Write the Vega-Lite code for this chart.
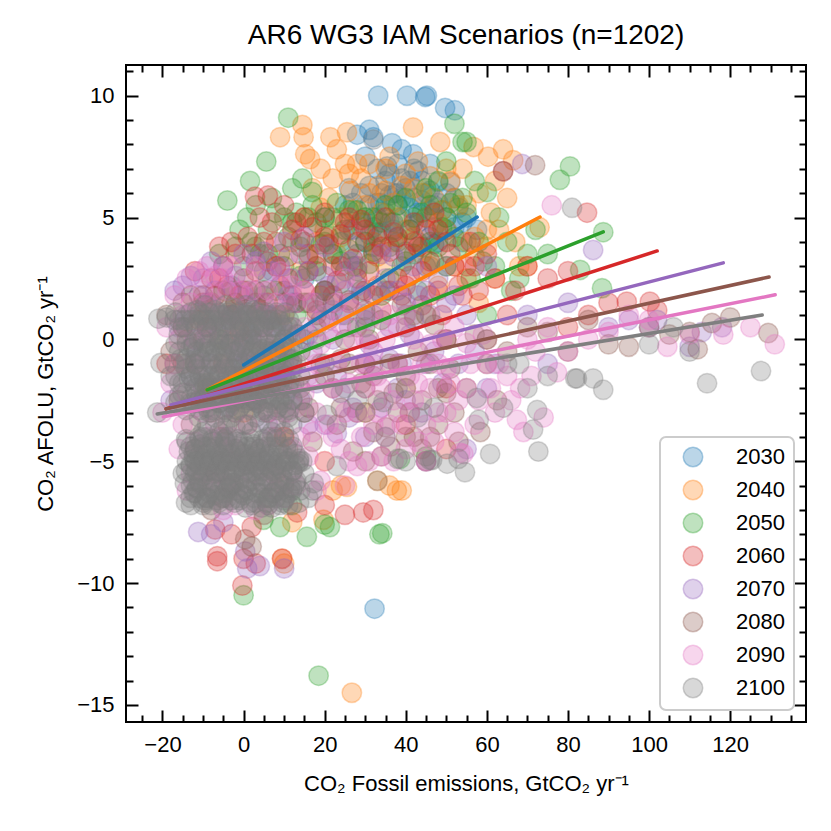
{
"$schema":"https://vega.github.io/schema/vega-lite/v6.json",
"autosize":"none",
"width":680,"height":657,
"padding":{"left":126,"top":65,"right":25,"bottom":109},
"title":{"text":"AR6 WG3 IAM Scenarios (n=1202)","fontSize":28,"font":"Liberation Sans","fontWeight":"normal","color":"black","offset":14},
"config":{"view":{"stroke":"black","strokeWidth":2},
"axis":{"labelFont":"Liberation Sans","titleFont":"Liberation Sans","labelFontSize":22,"titleFontSize":22,"titleFontWeight":"normal","labelColor":"black","titleColor":"black","tickColor":"black","tickWidth":2,"domain":false,"grid":false,"zindex":1,"labelFlush":false,"labelOverlap":false}},
"datasets":{
"fits":[
{"year":"2030","x1":0,"y1":-1.05,"x2":57.6,"y2":5.02},
{"year":"2040","x1":-9,"y1":-2.07,"x2":73.1,"y2":5.02},
{"year":"2050","x1":-9,"y1":-2.07,"x2":88.7,"y2":4.41},
{"year":"2060","x1":-19.1,"y1":-2.85,"x2":102,"y2":3.63},
{"year":"2070","x1":-17.9,"y1":-2.69,"x2":118.3,"y2":3.14},
{"year":"2080","x1":-19.1,"y1":-2.85,"x2":129.6,"y2":2.56},
{"year":"2090","x1":-19.8,"y1":-3.18,"x2":131.1,"y2":1.83},
{"year":"2100","x1":-21.3,"y1":-3.06,"x2":127.9,"y2":1.0}
],
"pts":[
{"year":"2030","x":0,"y":-1},{"year":"2030","x":2,"y":0.2},{"year":"2030","x":4,"y":-1.5},{"year":"2030","x":6,"y":1},{"year":"2030","x":8,"y":0.5},{"year":"2030","x":10,"y":2},{"year":"2030","x":12,"y":1.5},{"year":"2030","x":15,"y":2.5},{"year":"2030","x":18,"y":3},{"year":"2030","x":20,"y":2},{"year":"2030","x":22,"y":3.5},{"year":"2030","x":24,"y":4},{"year":"2030","x":25,"y":2.8},{"year":"2030","x":27,"y":4.5},{"year":"2030","x":28,"y":3.5},{"year":"2030","x":30,"y":5},{"year":"2030","x":30,"y":4},{"year":"2030","x":31,"y":5.5},{"year":"2030","x":32,"y":4.6},{"year":"2030","x":33,"y":5.6},{"year":"2030","x":34,"y":6},{"year":"2030","x":35,"y":5.2},{"year":"2030","x":36,"y":4.8},{"year":"2030","x":37,"y":6},{"year":"2030","x":38,"y":5.5},{"year":"2030","x":39,"y":5},{"year":"2030","x":40,"y":6.2},{"year":"2030","x":41,"y":4.5},{"year":"2030","x":42,"y":5.8},{"year":"2030","x":43,"y":5.2},{"year":"2030","x":44,"y":6.5},{"year":"2030","x":45,"y":5},{"year":"2030","x":46,"y":4.2},{"year":"2030","x":47,"y":5.5},{"year":"2030","x":48,"y":6.45},{"year":"2030","x":50,"y":5},{"year":"2030","x":52,"y":4.6},{"year":"2030","x":54,"y":4},{"year":"2030","x":57.6,"y":4.5},{"year":"2030","x":28,"y":8.4},{"year":"2030","x":32,"y":8.3},{"year":"2030","x":36.6,"y":8.05},{"year":"2030","x":35.4,"y":7.1},{"year":"2030","x":41.8,"y":7.6},{"year":"2030","x":33.2,"y":10},{"year":"2030","x":40.3,"y":10},{"year":"2030","x":44.8,"y":9.95},{"year":"2030","x":45.2,"y":10},{"year":"2030","x":49.7,"y":9.5},{"year":"2030","x":52.1,"y":9.4},{"year":"2030","x":51,"y":6.45},{"year":"2030","x":37.8,"y":6},{"year":"2030","x":33.7,"y":5.6},{"year":"2030","x":26,"y":6.2},{"year":"2030","x":38,"y":7.2},{"year":"2030","x":42,"y":7},{"year":"2030","x":30,"y":7.5},{"year":"2030","x":46,"y":7.2},{"year":"2030","x":32.3,"y":-11.05},{"year":"2030","x":20,"y":5},{"year":"2030","x":25,"y":5.5},{"year":"2030","x":15,"y":0},{"year":"2030","x":35,"y":2},{"year":"2030","x":45,"y":3},
{"year":"2030","x":29,"y":4.8},{"year":"2030","x":31,"y":6.3},{"year":"2030","x":34,"y":4.4},{"year":"2030","x":36,"y":5.9},{"year":"2030","x":38,"y":4.2},{"year":"2030","x":39,"y":6.6},{"year":"2030","x":41,"y":5.4},{"year":"2030","x":43,"y":4.8},{"year":"2030","x":44,"y":5.7},{"year":"2030","x":46,"y":6.1},{"year":"2030","x":47,"y":4.6},{"year":"2030","x":49,"y":5.3},{"year":"2030","x":50,"y":6},{"year":"2030","x":53,"y":5.4},{"year":"2030","x":55,"y":5},{"year":"2030","x":32,"y":3.8},{"year":"2030","x":40,"y":3.6},{"year":"2030","x":47,"y":3.9},{"year":"2030","x":27,"y":5.6},{"year":"2030","x":36,"y":6.8},{"year":"2030","x":43,"y":6.9},{"year":"2030","x":48,"y":4},{"year":"2030","x":33,"y":7},{"year":"2030","x":39,"y":7.8},{"year":"2030","x":31,"y":8.6},
{"year":"2030","x":26,"y":4.5},{"year":"2030","x":29,"y":6},{"year":"2030","x":31,"y":4.3},{"year":"2030","x":33,"y":5},{"year":"2030","x":35,"y":6.5},{"year":"2030","x":37,"y":4.5},{"year":"2030","x":39,"y":5.8},{"year":"2030","x":41,"y":6.5},{"year":"2030","x":43,"y":4},{"year":"2030","x":45,"y":6},{"year":"2030","x":46,"y":5.3},{"year":"2030","x":48,"y":5.6},{"year":"2030","x":50,"y":4.5},{"year":"2030","x":52,"y":5.8},{"year":"2030","x":54,"y":4.8},
{"year":"2040","x":-9,"y":-2},{"year":"2040","x":-5,"y":0},{"year":"2040","x":-2,"y":1.5},{"year":"2040","x":0,"y":-3},{"year":"2040","x":3,"y":2},{"year":"2040","x":5,"y":-1},{"year":"2040","x":8,"y":3},{"year":"2040","x":9,"y":8.3},{"year":"2040","x":10,"y":1},{"year":"2040","x":12,"y":4},{"year":"2040","x":14.5,"y":8.8},{"year":"2040","x":14.8,"y":8.3},{"year":"2040","x":15.2,"y":7.6},{"year":"2040","x":16.4,"y":7.4},{"year":"2040","x":15,"y":5},{"year":"2040","x":18,"y":3},{"year":"2040","x":20,"y":4.5},{"year":"2040","x":20,"y":2},{"year":"2040","x":21.4,"y":8.3},{"year":"2040","x":23,"y":7.8},{"year":"2040","x":25.5,"y":8.5},{"year":"2040","x":24,"y":5},{"year":"2040","x":26.3,"y":6.1},{"year":"2040","x":28,"y":7.2},{"year":"2040","x":28,"y":3},{"year":"2040","x":30,"y":5.5},{"year":"2040","x":32,"y":4},{"year":"2040","x":33.2,"y":6.3},{"year":"2040","x":35,"y":6.1},{"year":"2040","x":35,"y":3},{"year":"2040","x":38,"y":5},{"year":"2040","x":40,"y":4.5},{"year":"2040","x":41.8,"y":8.7},{"year":"2040","x":42,"y":6.2},{"year":"2040","x":44,"y":3.5},{"year":"2040","x":45,"y":5},{"year":"2040","x":47,"y":5.8},{"year":"2040","x":48.5,"y":8.1},{"year":"2040","x":50,"y":4.5},{"year":"2040","x":52,"y":3},{"year":"2040","x":55,"y":4},{"year":"2040","x":56.7,"y":7.9},{"year":"2040","x":57,"y":4.2},{"year":"2040","x":60.3,"y":7.5},{"year":"2040","x":60,"y":3.8},{"year":"2040","x":64,"y":7.8},{"year":"2040","x":66.5,"y":7.35},{"year":"2040","x":62,"y":2.5},{"year":"2040","x":68,"y":3},{"year":"2040","x":70,"y":3},{"year":"2040","x":73,"y":4.6},{"year":"2040","x":45,"y":1},{"year":"2040","x":55,"y":2.5},{"year":"2040","x":10,"y":-4},{"year":"2040","x":20,"y":-5},{"year":"2040","x":22,"y":-6.2},{"year":"2040","x":25.5,"y":-6.05},{"year":"2040","x":37.8,"y":-6.2},{"year":"2040","x":39,"y":-6.2},{"year":"2040","x":36,"y":-6},{"year":"2040","x":19.7,"y":-7.4},{"year":"2040","x":12,"y":-7.5},{"year":"2040","x":9.5,"y":-9.0},{"year":"2040","x":10,"y":-9.2},{"year":"2040","x":26.7,"y":-14.5},{"year":"2040","x":30,"y":-3},{"year":"2040","x":40,"y":-2},{"year":"2040","x":50,"y":0},{"year":"2040","x":33,"y":-5.8},{"year":"2040","x":24,"y":-6},
{"year":"2040","x":17,"y":6.2},{"year":"2040","x":19,"y":5.4},{"year":"2040","x":22,"y":6.6},{"year":"2040","x":25,"y":7.2},{"year":"2040","x":27,"y":5.3},{"year":"2040","x":29,"y":6.6},{"year":"2040","x":31,"y":7.2},{"year":"2040","x":34,"y":5.2},{"year":"2040","x":36,"y":7.5},{"year":"2040","x":37,"y":4},{"year":"2040","x":39,"y":6.3},{"year":"2040","x":43,"y":7.3},{"year":"2040","x":46,"y":6.7},{"year":"2040","x":49,"y":5.3},{"year":"2040","x":51,"y":6.5},{"year":"2040","x":53,"y":5.5},{"year":"2040","x":54,"y":7},{"year":"2040","x":58,"y":6},{"year":"2040","x":61,"y":5.2},{"year":"2040","x":63,"y":4.5},{"year":"2040","x":65,"y":5.8},{"year":"2040","x":67,"y":4},{"year":"2040","x":23,"y":3.5},{"year":"2040","x":33,"y":2.2},{"year":"2040","x":48,"y":2.2},{"year":"2040","x":14,"y":2.8},{"year":"2040","x":58,"y":1.5},{"year":"2040","x":19,"y":7},
{"year":"2040","x":18,"y":4},{"year":"2040","x":21,"y":5.8},{"year":"2040","x":24,"y":4.2},{"year":"2040","x":26,"y":6.8},{"year":"2040","x":29,"y":4.6},{"year":"2040","x":31,"y":6},{"year":"2040","x":33,"y":3.4},{"year":"2040","x":35,"y":7},{"year":"2040","x":37,"y":5.6},{"year":"2040","x":40,"y":6.8},{"year":"2040","x":42,"y":4.2},{"year":"2040","x":44,"y":6},{"year":"2040","x":46,"y":3},{"year":"2040","x":48,"y":4.8},{"year":"2040","x":50,"y":7},{"year":"2040","x":52,"y":5.8},{"year":"2040","x":55,"y":5.5},{"year":"2040","x":57,"y":3.4},{"year":"2040","x":60,"y":4.5},{"year":"2040","x":62,"y":6.5},
{"year":"2050","x":-9,"y":-2},{"year":"2050","x":-6,"y":0},{"year":"2050","x":-4,"y":5.7},{"year":"2050","x":-3,"y":2},{"year":"2050","x":0,"y":3},{"year":"2050","x":0.9,"y":5.0},{"year":"2050","x":1.6,"y":6.5},{"year":"2050","x":2,"y":4},{"year":"2050","x":4,"y":3.5},{"year":"2050","x":5.6,"y":7.3},{"year":"2050","x":6,"y":4.5},{"year":"2050","x":8,"y":2},{"year":"2050","x":11,"y":9.1},{"year":"2050","x":10,"y":5},{"year":"2050","x":12,"y":6.2},{"year":"2050","x":14.5,"y":6.6},{"year":"2050","x":16.9,"y":6.05},{"year":"2050","x":15,"y":4},{"year":"2050","x":18,"y":4.8},{"year":"2050","x":20,"y":5},{"year":"2050","x":20,"y":2},{"year":"2050","x":22,"y":3.5},{"year":"2050","x":25,"y":4.5},{"year":"2050","x":27,"y":3},{"year":"2050","x":30,"y":4},{"year":"2050","x":32,"y":5},{"year":"2050","x":35,"y":5.5},{"year":"2050","x":36,"y":2.5},{"year":"2050","x":38,"y":4},{"year":"2050","x":40,"y":5.8},{"year":"2050","x":42,"y":3.5},{"year":"2050","x":45,"y":6.2},{"year":"2050","x":46,"y":4},{"year":"2050","x":48,"y":6.5},{"year":"2050","x":50,"y":7.3},{"year":"2050","x":50,"y":3},{"year":"2050","x":52,"y":8.85},{"year":"2050","x":54,"y":8.1},{"year":"2050","x":55,"y":8.1},{"year":"2050","x":55,"y":5.2},{"year":"2050","x":58,"y":4},{"year":"2050","x":60,"y":6.05},{"year":"2050","x":62,"y":3},{"year":"2050","x":65,"y":4},{"year":"2050","x":68,"y":2.5},{"year":"2050","x":70,"y":3.5},{"year":"2050","x":75,"y":3.5},{"year":"2050","x":78,"y":6.55},{"year":"2050","x":80.5,"y":7.1},{"year":"2050","x":83,"y":2.85},{"year":"2050","x":88.4,"y":2.1},{"year":"2050","x":88.7,"y":4.4},{"year":"2050","x":60,"y":1},{"year":"2050","x":40,"y":1},{"year":"2050","x":25,"y":1},{"year":"2050","x":10,"y":0},{"year":"2050","x":-2,"y":-3},{"year":"2050","x":4.9,"y":-7.4},{"year":"2050","x":9,"y":-7.7},{"year":"2050","x":15.6,"y":-8.1},{"year":"2050","x":21.3,"y":-7.7},{"year":"2050","x":20,"y":-7.6},{"year":"2050","x":34.2,"y":-7.95},{"year":"2050","x":33.5,"y":-8.0},{"year":"2050","x":0,"y":-10.5},{"year":"2050","x":18.5,"y":-13.8},{"year":"2050","x":38.6,"y":-4.9},{"year":"2050","x":45,"y":-4.8},{"year":"2050","x":12,"y":-6.8},{"year":"2050","x":6,"y":-6.5},
{"year":"2050","x":-1,"y":4.5},{"year":"2050","x":3,"y":5.5},{"year":"2050","x":5,"y":2.8},{"year":"2050","x":7,"y":5.8},{"year":"2050","x":9,"y":3.5},{"year":"2050","x":11,"y":4.2},{"year":"2050","x":13,"y":5.2},{"year":"2050","x":14,"y":2.6},{"year":"2050","x":16,"y":3.3},{"year":"2050","x":17,"y":5.5},{"year":"2050","x":19,"y":3.9},{"year":"2050","x":21,"y":4.2},{"year":"2050","x":23,"y":5.6},{"year":"2050","x":24,"y":2.3},{"year":"2050","x":26,"y":3.7},{"year":"2050","x":28,"y":5.3},{"year":"2050","x":29,"y":2},{"year":"2050","x":31,"y":3.1},{"year":"2050","x":33,"y":4.4},{"year":"2050","x":34,"y":1.8},{"year":"2050","x":37,"y":4.8},{"year":"2050","x":39,"y":3},{"year":"2050","x":41,"y":4.5},{"year":"2050","x":43,"y":2},{"year":"2050","x":44,"y":5.2},{"year":"2050","x":47,"y":3.2},{"year":"2050","x":49,"y":4.6},{"year":"2050","x":51,"y":5.6},{"year":"2050","x":53,"y":3.8},{"year":"2050","x":56,"y":2.5},{"year":"2050","x":57,"y":6.5},{"year":"2050","x":59,"y":3.2},{"year":"2050","x":63,"y":5},{"year":"2050","x":66,"y":2},{"year":"2050","x":72,"y":4.5},{"year":"2050","x":3,"y":1},{"year":"2050","x":13,"y":1},{"year":"2050","x":18,"y":0},{"year":"2050","x":30,"y":0.5},{"year":"2050","x":-6,"y":3.5},
{"year":"2050","x":1,"y":2},{"year":"2050","x":3,"y":3.8},{"year":"2050","x":6,"y":3.5},{"year":"2050","x":8,"y":5.2},{"year":"2050","x":10,"y":3},{"year":"2050","x":12,"y":4.8},{"year":"2050","x":14,"y":3.8},{"year":"2050","x":16,"y":5},{"year":"2050","x":18,"y":2.8},{"year":"2050","x":20,"y":4},{"year":"2050","x":22,"y":5},{"year":"2050","x":24,"y":3.2},{"year":"2050","x":26,"y":5.3},{"year":"2050","x":28,"y":2.8},{"year":"2050","x":30,"y":5},{"year":"2050","x":32,"y":3.6},{"year":"2050","x":34,"y":4.8},{"year":"2050","x":36,"y":3.8},{"year":"2050","x":38,"y":5.5},{"year":"2050","x":40,"y":3.2},{"year":"2050","x":42,"y":5},{"year":"2050","x":44,"y":3.8},{"year":"2050","x":46,"y":5.5},{"year":"2050","x":48,"y":3.8},{"year":"2050","x":50,"y":5},{"year":"2050","x":52,"y":4.2},{"year":"2050","x":54,"y":5.8},{"year":"2050","x":-2,"y":3.8},{"year":"2050","x":5,"y":1.8},{"year":"2050","x":15,"y":1.5},
{"year":"2060","x":-19,"y":-1},{"year":"2060","x":-15,"y":0.5},{"year":"2060","x":-12,"y":2.8},{"year":"2060","x":-10,"y":1.5},{"year":"2060","x":-8,"y":2.5},{"year":"2060","x":-5,"y":3},{"year":"2060","x":-3,"y":1},{"year":"2060","x":0,"y":2},{"year":"2060","x":2.8,"y":5.85},{"year":"2060","x":6,"y":5.9},{"year":"2060","x":5,"y":4},{"year":"2060","x":8,"y":3},{"year":"2060","x":10,"y":5.5},{"year":"2060","x":12,"y":4.5},{"year":"2060","x":15,"y":5},{"year":"2060","x":15,"y":2},{"year":"2060","x":18,"y":3.5},{"year":"2060","x":20,"y":5.2},{"year":"2060","x":22,"y":3},{"year":"2060","x":25,"y":4.8},{"year":"2060","x":28,"y":4},{"year":"2060","x":30,"y":2},{"year":"2060","x":32,"y":3.5},{"year":"2060","x":35,"y":5},{"year":"2060","x":38,"y":2.5},{"year":"2060","x":40,"y":3.5},{"year":"2060","x":42,"y":4.8},{"year":"2060","x":45,"y":4.5},{"year":"2060","x":48,"y":2},{"year":"2060","x":50,"y":4},{"year":"2060","x":52,"y":3},{"year":"2060","x":55,"y":3},{"year":"2060","x":58,"y":2},{"year":"2060","x":60,"y":3.5},{"year":"2060","x":64,"y":6.9},{"year":"2060","x":65,"y":1},{"year":"2060","x":70,"y":3},{"year":"2060","x":75,"y":2.5},{"year":"2060","x":80,"y":2.8},{"year":"2060","x":84.7,"y":5.2},{"year":"2060","x":85,"y":1},{"year":"2060","x":90,"y":1.5},{"year":"2060","x":94.5,"y":1.55},{"year":"2060","x":100.2,"y":1.55},{"year":"2060","x":102,"y":1.2},{"year":"2060","x":50,"y":-2},{"year":"2060","x":40,"y":-3.5},{"year":"2060","x":10,"y":-4},{"year":"2060","x":5,"y":-1},{"year":"2060","x":-5,"y":-2},{"year":"2060","x":-7,"y":-7.8},{"year":"2060","x":-6.5,"y":-8.9},{"year":"2060","x":-6.5,"y":-9.1},{"year":"2060","x":-3,"y":-8},{"year":"2060","x":0,"y":-9},{"year":"2060","x":-0.3,"y":-10.1},{"year":"2060","x":3,"y":-9.2},{"year":"2060","x":9.5,"y":-9.0},{"year":"2060","x":13.2,"y":-7.1},{"year":"2060","x":20,"y":-6.8},{"year":"2060","x":29.5,"y":-7.1},{"year":"2060","x":32,"y":-7.0},{"year":"2060","x":25,"y":-7.2},{"year":"2060","x":50,"y":-4.5},{"year":"2060","x":2,"y":-7.7},{"year":"2060","x":30,"y":-1},{"year":"2060","x":60,"y":0},{"year":"2060","x":80,"y":0.5},
{"year":"2060","x":-11,"y":0.8},{"year":"2060","x":-7,"y":1.8},{"year":"2060","x":-6,"y":3.8},{"year":"2060","x":-4,"y":2.2},{"year":"2060","x":-2,"y":3.5},{"year":"2060","x":-1,"y":0.3},{"year":"2060","x":1,"y":4.2},{"year":"2060","x":3,"y":2.8},{"year":"2060","x":4,"y":1.2},{"year":"2060","x":6,"y":3.2},{"year":"2060","x":7,"y":4.8},{"year":"2060","x":9,"y":2.2},{"year":"2060","x":11,"y":3.4},{"year":"2060","x":13,"y":1.5},{"year":"2060","x":14,"y":4.1},{"year":"2060","x":16,"y":2.8},{"year":"2060","x":17,"y":4.6},{"year":"2060","x":19,"y":1.8},{"year":"2060","x":21,"y":3.9},{"year":"2060","x":23,"y":2.4},{"year":"2060","x":24,"y":4.3},{"year":"2060","x":26,"y":1.5},{"year":"2060","x":27,"y":3.3},{"year":"2060","x":29,"y":4.9},{"year":"2060","x":31,"y":2.8},{"year":"2060","x":33,"y":4.2},{"year":"2060","x":34,"y":1.2},{"year":"2060","x":36,"y":3.6},{"year":"2060","x":37,"y":4.4},{"year":"2060","x":39,"y":1.8},{"year":"2060","x":41,"y":2.6},{"year":"2060","x":43,"y":3.8},{"year":"2060","x":44,"y":1.4},{"year":"2060","x":46,"y":3.2},{"year":"2060","x":47,"y":5.2},{"year":"2060","x":49,"y":1},{"year":"2060","x":53,"y":2.2},{"year":"2060","x":56,"y":4},{"year":"2060","x":62,"y":2.5},{"year":"2060","x":67,"y":2},
{"year":"2060","x":-9,"y":0.5},{"year":"2060","x":-6,"y":2.5},{"year":"2060","x":-3,"y":4},{"year":"2060","x":-1,"y":1.8},{"year":"2060","x":2,"y":3.5},{"year":"2060","x":4,"y":5},{"year":"2060","x":6,"y":1.5},{"year":"2060","x":8,"y":4},{"year":"2060","x":11,"y":2.5},{"year":"2060","x":13,"y":4.8},{"year":"2060","x":16,"y":3.5},{"year":"2060","x":18,"y":1.2},{"year":"2060","x":20,"y":4.2},{"year":"2060","x":22,"y":1.8},{"year":"2060","x":24,"y":3},{"year":"2060","x":26,"y":5},{"year":"2060","x":28,"y":2.5},{"year":"2060","x":30,"y":4.5},{"year":"2060","x":32,"y":1.8},{"year":"2060","x":34,"y":3.8},{"year":"2060","x":36,"y":2},{"year":"2060","x":38,"y":4.2},{"year":"2060","x":40,"y":2.2},{"year":"2060","x":42,"y":4},{"year":"2060","x":44,"y":2.8},{"year":"2060","x":46,"y":1.8},{"year":"2060","x":48,"y":4.5},{"year":"2060","x":51,"y":3.5},{"year":"2060","x":54,"y":1.8},{"year":"2060","x":57,"y":3},
{"year":"2070","x":-18,"y":-2.5},{"year":"2070","x":-17,"y":2},{"year":"2070","x":-15,"y":2.2},{"year":"2070","x":-12,"y":0},{"year":"2070","x":-10,"y":2.5},{"year":"2070","x":-8,"y":-1},{"year":"2070","x":-5,"y":3},{"year":"2070","x":-3,"y":1},{"year":"2070","x":0,"y":3.5},{"year":"2070","x":0,"y":0},{"year":"2070","x":3,"y":2},{"year":"2070","x":5,"y":3.6},{"year":"2070","x":8,"y":1},{"year":"2070","x":10,"y":4},{"year":"2070","x":10,"y":-1},{"year":"2070","x":12,"y":2.5},{"year":"2070","x":15,"y":4.2},{"year":"2070","x":18,"y":1.5},{"year":"2070","x":20,"y":3.8},{"year":"2070","x":22,"y":0},{"year":"2070","x":25,"y":2},{"year":"2070","x":28,"y":3},{"year":"2070","x":30,"y":-1},{"year":"2070","x":32,"y":1},{"year":"2070","x":35,"y":2.5},{"year":"2070","x":38,"y":-2},{"year":"2070","x":40,"y":1.5},{"year":"2070","x":42,"y":3},{"year":"2070","x":45,"y":-1},{"year":"2070","x":48,"y":2.5},{"year":"2070","x":50,"y":0},{"year":"2070","x":55,"y":1},{"year":"2070","x":60,"y":3},{"year":"2070","x":62,"y":-1},{"year":"2070","x":68.7,"y":7.2},{"year":"2070","x":70,"y":1},{"year":"2070","x":75,"y":-1},{"year":"2070","x":80,"y":1.5},{"year":"2070","x":86.2,"y":3.67},{"year":"2070","x":90,"y":0.5},{"year":"2070","x":95,"y":0.8},{"year":"2070","x":100,"y":0.5},{"year":"2070","x":102,"y":0.8},{"year":"2070","x":110,"y":-0.3},{"year":"2070","x":113,"y":0.3},{"year":"2070","x":118,"y":0.5},{"year":"2070","x":-11.2,"y":-7.9},{"year":"2070","x":-8,"y":-8},{"year":"2070","x":-5,"y":-7.5},{"year":"2070","x":0.4,"y":-8.7},{"year":"2070","x":0.9,"y":-9.4},{"year":"2070","x":4,"y":-9.3},{"year":"2070","x":10,"y":-9.4},{"year":"2070","x":23,"y":-3.85},{"year":"2070","x":20,"y":-3.5},{"year":"2070","x":45,"y":-5},{"year":"2070","x":55,"y":-4.5},{"year":"2070","x":60,"y":-2},{"year":"2070","x":30,"y":-4},{"year":"2070","x":5,"y":-5},{"year":"2070","x":-5,"y":-4},
{"year":"2070","x":-14,"y":1},{"year":"2070","x":-13,"y":-1.5},{"year":"2070","x":-11,"y":1.8},{"year":"2070","x":-9,"y":0.5},{"year":"2070","x":-7,"y":2},{"year":"2070","x":-6,"y":-2},{"year":"2070","x":-4,"y":0.8},{"year":"2070","x":-2,"y":2.6},{"year":"2070","x":-1,"y":-1.5},{"year":"2070","x":1,"y":1.4},{"year":"2070","x":2,"y":-2.5},{"year":"2070","x":4,"y":0.5},{"year":"2070","x":6,"y":2.5},{"year":"2070","x":7,"y":-1.2},{"year":"2070","x":9,"y":3},{"year":"2070","x":11,"y":0.2},{"year":"2070","x":13,"y":1.5},{"year":"2070","x":14,"y":-2.5},{"year":"2070","x":16,"y":2.8},{"year":"2070","x":17,"y":-0.5},{"year":"2070","x":19,"y":0.8},{"year":"2070","x":21,"y":2.2},{"year":"2070","x":23,"y":-1.5},{"year":"2070","x":24,"y":1},{"year":"2070","x":26,"y":3.2},{"year":"2070","x":27,"y":-2.8},{"year":"2070","x":29,"y":1.8},{"year":"2070","x":31,"y":-0.2},{"year":"2070","x":33,"y":2},{"year":"2070","x":34,"y":-2.8},{"year":"2070","x":36,"y":0.5},{"year":"2070","x":37,"y":3.4},{"year":"2070","x":39,"y":-1},{"year":"2070","x":41,"y":0.2},{"year":"2070","x":43,"y":1.8},{"year":"2070","x":44,"y":-3},{"year":"2070","x":46,"y":1},{"year":"2070","x":49,"y":-1.8},{"year":"2070","x":52,"y":1.8},{"year":"2070","x":57,"y":-0.5},
{"year":"2070","x":-16,"y":0.5},{"year":"2070","x":-13,"y":2.6},{"year":"2070","x":-12,"y":-0.8},{"year":"2070","x":-9,"y":1.5},{"year":"2070","x":-8,"y":3.2},{"year":"2070","x":-6,"y":0.2},{"year":"2070","x":-3,"y":2.2},{"year":"2070","x":-2,"y":-0.5},{"year":"2070","x":0,"y":1.8},{"year":"2070","x":1,"y":-0.8},{"year":"2070","x":3,"y":3.2},{"year":"2070","x":5,"y":1.5},{"year":"2070","x":7,"y":2.8},{"year":"2070","x":8,"y":-0.5},{"year":"2070","x":11,"y":1.8},{"year":"2070","x":12,"y":-2},{"year":"2070","x":14,"y":3.5},{"year":"2070","x":16,"y":0.2},{"year":"2070","x":18,"y":-1.8},{"year":"2070","x":20,"y":2.6},{"year":"2070","x":22,"y":1.2},{"year":"2070","x":24,"y":-2.2},{"year":"2070","x":26,"y":0.5},{"year":"2070","x":28,"y":2.2},{"year":"2070","x":30,"y":0.8},{"year":"2070","x":32,"y":-1},{"year":"2070","x":34,"y":3.5},{"year":"2070","x":36,"y":-0.8},{"year":"2070","x":38,"y":2},{"year":"2070","x":40,"y":-2.5},{"year":"2070","x":42,"y":0.8},{"year":"2070","x":45,"y":2},{"year":"2070","x":47,"y":-0.5},{"year":"2070","x":50,"y":1.5},{"year":"2070","x":53,"y":-1},{"year":"2070","x":-10,"y":-2},{"year":"2070","x":-4,"y":-2.8},{"year":"2070","x":6,"y":-3.5},{"year":"2070","x":16,"y":-3.5},{"year":"2070","x":26,"y":-3.2},
{"year":"2080","x":-19,"y":1},{"year":"2080","x":-16,"y":-2.5},{"year":"2080","x":-15,"y":1.5},{"year":"2080","x":-12,"y":-1},{"year":"2080","x":-10,"y":1.8},{"year":"2080","x":-8,"y":-3},{"year":"2080","x":-5,"y":2},{"year":"2080","x":-5,"y":-1},{"year":"2080","x":-3,"y":-5},{"year":"2080","x":0,"y":2.5},{"year":"2080","x":2,"y":0},{"year":"2080","x":5,"y":2},{"year":"2080","x":5,"y":-2},{"year":"2080","x":8,"y":-4},{"year":"2080","x":10,"y":1.5},{"year":"2080","x":12,"y":-1},{"year":"2080","x":15,"y":-3},{"year":"2080","x":18,"y":0.5},{"year":"2080","x":20,"y":2},{"year":"2080","x":22,"y":-2},{"year":"2080","x":25,"y":0},{"year":"2080","x":28,"y":-3},{"year":"2080","x":30,"y":1.2},{"year":"2080","x":32,"y":-1.5},{"year":"2080","x":35,"y":-3.6},{"year":"2080","x":36.2,"y":-4.4},{"year":"2080","x":38,"y":-1},{"year":"2080","x":40,"y":0.5},{"year":"2080","x":42,"y":-4},{"year":"2080","x":45,"y":-5},{"year":"2080","x":48,"y":-2},{"year":"2080","x":50,"y":0},{"year":"2080","x":52,"y":-3},{"year":"2080","x":55,"y":-2},{"year":"2080","x":58.4,"y":-3.8},{"year":"2080","x":60,"y":-1},{"year":"2080","x":62.5,"y":-2.5},{"year":"2080","x":64,"y":6.9},{"year":"2080","x":71.9,"y":7.15},{"year":"2080","x":65,"y":-0.5},{"year":"2080","x":70,"y":0.5},{"year":"2080","x":75,"y":0.3},{"year":"2080","x":80,"y":-0.5},{"year":"2080","x":85,"y":0.8},{"year":"2080","x":90,"y":-0.2},{"year":"2080","x":95,"y":-0.3},{"year":"2080","x":100,"y":0.5},{"year":"2080","x":105,"y":0.2},{"year":"2080","x":110,"y":0.3},{"year":"2080","x":112,"y":-0.4},{"year":"2080","x":115.5,"y":0.67},{"year":"2080","x":120,"y":0.9},{"year":"2080","x":129.4,"y":0.26},{"year":"2080","x":0.4,"y":-8.2},{"year":"2080","x":2,"y":-8.5},{"year":"2080","x":-5,"y":-6.5},{"year":"2080","x":10,"y":-6},{"year":"2080","x":30,"y":-5},{"year":"2080","x":40,"y":-4},{"year":"2080","x":-10,"y":-5.5},
{"year":"2080","x":-14,"y":0},{"year":"2080","x":-13,"y":-3.5},{"year":"2080","x":-11,"y":1},{"year":"2080","x":-9,"y":-1.8},{"year":"2080","x":-7,"y":0.8},{"year":"2080","x":-6,"y":-4},{"year":"2080","x":-4,"y":1.2},{"year":"2080","x":-2,"y":-2.5},{"year":"2080","x":-1,"y":0.5},{"year":"2080","x":1,"y":-3.5},{"year":"2080","x":3,"y":1.5},{"year":"2080","x":4,"y":-1},{"year":"2080","x":6,"y":-3},{"year":"2080","x":7,"y":0.8},{"year":"2080","x":9,"y":-2},{"year":"2080","x":11,"y":-4.5},{"year":"2080","x":13,"y":0.2},{"year":"2080","x":14,"y":-2},{"year":"2080","x":16,"y":1.5},{"year":"2080","x":17,"y":-4.2},{"year":"2080","x":19,"y":-1},{"year":"2080","x":21,"y":0.8},{"year":"2080","x":23,"y":-3.5},{"year":"2080","x":24,"y":-0.8},{"year":"2080","x":26,"y":1.6},{"year":"2080","x":27,"y":-4.6},{"year":"2080","x":29,"y":-1.8},{"year":"2080","x":31,"y":0},{"year":"2080","x":33,"y":-2.5},{"year":"2080","x":34,"y":-4.8},{"year":"2080","x":37,"y":-2.2},{"year":"2080","x":39,"y":1.4},{"year":"2080","x":41,"y":-3},{"year":"2080","x":43,"y":-0.5},{"year":"2080","x":44,"y":-2.5},{"year":"2080","x":46,"y":-4},{"year":"2080","x":47,"y":0.6},{"year":"2080","x":51,"y":-1.2},{"year":"2080","x":53,"y":-4.2},{"year":"2080","x":57,"y":0.2},{"year":"2080","x":-17,"y":-1},{"year":"2080","x":-3,"y":-6},{"year":"2080","x":5,"y":-7.2},{"year":"2080","x":-8,"y":-7},
{"year":"2080","x":-18,"y":-0.5},{"year":"2080","x":-15,"y":-1},{"year":"2080","x":-13,"y":1.8},{"year":"2080","x":-11,"y":-2.5},{"year":"2080","x":-10,"y":0},{"year":"2080","x":-8,"y":1.5},{"year":"2080","x":-6,"y":-1},{"year":"2080","x":-4,"y":-3.5},{"year":"2080","x":-2,"y":1.5},{"year":"2080","x":0,"y":-1.5},{"year":"2080","x":1,"y":1},{"year":"2080","x":3,"y":-2.5},{"year":"2080","x":5,"y":0.5},{"year":"2080","x":7,"y":-1.8},{"year":"2080","x":9,"y":1},{"year":"2080","x":10,"y":-3},{"year":"2080","x":12,"y":1.8},{"year":"2080","x":14,"y":-0.5},{"year":"2080","x":16,"y":-2.8},{"year":"2080","x":18,"y":1},{"year":"2080","x":20,"y":-1.5},{"year":"2080","x":22,"y":1.5},{"year":"2080","x":24,"y":-2.8},{"year":"2080","x":26,"y":-1},{"year":"2080","x":28,"y":0.5},{"year":"2080","x":30,"y":-2},{"year":"2080","x":32,"y":-3.8},{"year":"2080","x":34,"y":0.8},{"year":"2080","x":36,"y":-1},{"year":"2080","x":38,"y":-3},{"year":"2080","x":40,"y":-1.5},{"year":"2080","x":42,"y":1},{"year":"2080","x":44,"y":-4.5},{"year":"2080","x":46,"y":-1},{"year":"2080","x":48,"y":-3.5},{"year":"2080","x":50,"y":-2.2},{"year":"2080","x":-12,"y":-4.5},{"year":"2080","x":-7,"y":-5.5},{"year":"2080","x":2,"y":-5},{"year":"2080","x":8,"y":-5.5},
{"year":"2090","x":-20,"y":-3},{"year":"2090","x":-19,"y":0.5},{"year":"2090","x":-17,"y":-1},{"year":"2090","x":-15,"y":1},{"year":"2090","x":-15,"y":-3.5},{"year":"2090","x":-13,"y":-5.5},{"year":"2090","x":-12,"y":0},{"year":"2090","x":-10,"y":2},{"year":"2090","x":-10,"y":-3},{"year":"2090","x":-10,"y":-6},{"year":"2090","x":-8,"y":1.5},{"year":"2090","x":-8,"y":-5.8},{"year":"2090","x":-7,"y":-2},{"year":"2090","x":-5,"y":2.5},{"year":"2090","x":-5,"y":-4.5},{"year":"2090","x":-5,"y":-7},{"year":"2090","x":-3,"y":0},{"year":"2090","x":-2,"y":-3},{"year":"2090","x":0,"y":1},{"year":"2090","x":0,"y":-5},{"year":"2090","x":0,"y":-2},{"year":"2090","x":2,"y":2},{"year":"2090","x":3,"y":-1},{"year":"2090","x":5,"y":0},{"year":"2090","x":5,"y":-6},{"year":"2090","x":6,"y":-3},{"year":"2090","x":8,"y":1.5},{"year":"2090","x":10,"y":-2},{"year":"2090","x":10,"y":-6.5},{"year":"2090","x":12,"y":-5.5},{"year":"2090","x":12,"y":0.5},{"year":"2090","x":14,"y":-4},{"year":"2090","x":15,"y":2},{"year":"2090","x":16,"y":-1.5},{"year":"2090","x":18,"y":-3},{"year":"2090","x":20,"y":-5},{"year":"2090","x":20,"y":1},{"year":"2090","x":22,"y":-2},{"year":"2090","x":24,"y":-4.5},{"year":"2090","x":25,"y":2.5},{"year":"2090","x":25,"y":-6},{"year":"2090","x":27,"y":0},{"year":"2090","x":28,"y":-5.2},{"year":"2090","x":30,"y":-2},{"year":"2090","x":30,"y":0},{"year":"2090","x":32,"y":-3.5},{"year":"2090","x":33,"y":-3},{"year":"2090","x":35,"y":-4},{"year":"2090","x":36,"y":1},{"year":"2090","x":38,"y":-1},{"year":"2090","x":40,"y":-4.5},{"year":"2090","x":40,"y":1},{"year":"2090","x":42,"y":-2.5},{"year":"2090","x":45,"y":-3.5},{"year":"2090","x":45,"y":-5},{"year":"2090","x":48,"y":-1},{"year":"2090","x":50,"y":-3},{"year":"2090","x":52,"y":0.5},{"year":"2090","x":53.4,"y":-4.65},{"year":"2090","x":54.2,"y":-4.7},{"year":"2090","x":55,"y":-0.15},{"year":"2090","x":55,"y":-2},{"year":"2090","x":58,"y":-2.5},{"year":"2090","x":60,"y":-1},{"year":"2090","x":62,"y":-3},{"year":"2090","x":65,"y":-1.5},{"year":"2090","x":67.4,"y":-3.3},{"year":"2090","x":68.2,"y":-2.0},{"year":"2090","x":69,"y":-3.8},{"year":"2090","x":70,"y":0},{"year":"2090","x":74,"y":-3.2},{"year":"2090","x":75,"y":0.5},{"year":"2090","x":76,"y":5.5},{"year":"2090","x":77.3,"y":-1.35},{"year":"2090","x":80,"y":-0.5},{"year":"2090","x":85,"y":0},{"year":"2090","x":90,"y":0.3},{"year":"2090","x":95,"y":1},{"year":"2090","x":100,"y":0.8},{"year":"2090","x":104.5,"y":-0.3},{"year":"2090","x":110,"y":0.2},{"year":"2090","x":118.3,"y":0.2},{"year":"2090","x":125,"y":0.5},{"year":"2090","x":131,"y":-0.2},
{"year":"2090","x":-18,"y":-1.8},{"year":"2090","x":-16,"y":0},{"year":"2090","x":-14,"y":-2.2},{"year":"2090","x":-13,"y":1.5},{"year":"2090","x":-12,"y":-4.2},{"year":"2090","x":-11,"y":-1},{"year":"2090","x":-9,"y":0.2},{"year":"2090","x":-9,"y":-4},{"year":"2090","x":-8,"y":-2.5},{"year":"2090","x":-6,"y":1},{"year":"2090","x":-6,"y":-5.5},{"year":"2090","x":-4,"y":-1.2},{"year":"2090","x":-4,"y":2},{"year":"2090","x":-3,"y":-4},{"year":"2090","x":-1,"y":-0.5},{"year":"2090","x":-1,"y":-6},{"year":"2090","x":1,"y":-3.5},{"year":"2090","x":1,"y":2.5},{"year":"2090","x":2,"y":-1},{"year":"2090","x":4,"y":1},{"year":"2090","x":4,"y":-4.5},{"year":"2090","x":6,"y":-2},{"year":"2090","x":7,"y":-5.5},{"year":"2090","x":8,"y":0},{"year":"2090","x":9,"y":-3.5},{"year":"2090","x":11,"y":1.5},{"year":"2090","x":11,"y":-1},{"year":"2090","x":13,"y":-2.8},{"year":"2090","x":13,"y":-6},{"year":"2090","x":15,"y":0.5},{"year":"2090","x":16,"y":-4.8},{"year":"2090","x":17,"y":1.5},{"year":"2090","x":18,"y":-1},{"year":"2090","x":19,"y":-5.8},{"year":"2090","x":21,"y":-3.5},{"year":"2090","x":21,"y":0.2},{"year":"2090","x":23,"y":1.5},{"year":"2090","x":23,"y":-1},{"year":"2090","x":25,"y":-3},{"year":"2090","x":26,"y":-5},{"year":"2090","x":27,"y":1.2},{"year":"2090","x":29,"y":-4},{"year":"2090","x":29,"y":-1},{"year":"2090","x":31,"y":0.8},{"year":"2090","x":31,"y":-5},{"year":"2090","x":33,"y":-1.5},{"year":"2090","x":34,"y":-4.8},{"year":"2090","x":35,"y":0},{"year":"2090","x":37,"y":-2.5},{"year":"2090","x":37,"y":-5},{"year":"2090","x":39,"y":-3.5},{"year":"2090","x":41,"y":-1.5},{"year":"2090","x":42,"y":0},{"year":"2090","x":43,"y":-4.2},{"year":"2090","x":44,"y":-1},{"year":"2090","x":46,"y":-2},{"year":"2090","x":47,"y":-4.2},{"year":"2090","x":49,"y":0},{"year":"2090","x":51,"y":-1.8},{"year":"2090","x":52,"y":-3.8},{"year":"2090","x":56,"y":-1},{"year":"2090","x":57,"y":-3.5},{"year":"2090","x":59,"y":0.2},{"year":"2090","x":61,"y":-2},{"year":"2090","x":63,"y":-1},{"year":"2090","x":66,"y":-2.5},{"year":"2090","x":71,"y":-1.5},{"year":"2090","x":72,"y":-0.5},{"year":"2090","x":-2,"y":-6.8},{"year":"2090","x":8,"y":-6.2},{"year":"2090","x":-14,"y":-6.2},{"year":"2090","x":3,"y":-7},
{"year":"2090","x":-17,"y":1.8},{"year":"2090","x":-14,"y":2.5},{"year":"2090","x":-11,"y":2.8},{"year":"2090","x":-9,"y":3},{"year":"2090","x":-7,"y":2.6},{"year":"2090","x":-3,"y":3},{"year":"2090","x":-1,"y":2},{"year":"2090","x":3,"y":3},{"year":"2090","x":6,"y":2},{"year":"2090","x":9,"y":2.8},{"year":"2090","x":12,"y":2.2},{"year":"2090","x":-12,"y":-2.8},{"year":"2090","x":-7,"y":-3.5},{"year":"2090","x":-2,"y":-4.5},{"year":"2090","x":3,"y":-2.5},{"year":"2090","x":7,"y":-4},{"year":"2090","x":11,"y":-3},{"year":"2090","x":15,"y":-2.2},{"year":"2090","x":17,"y":-3.8},{"year":"2090","x":19,"y":-0.2},{"year":"2090","x":22,"y":-4},{"year":"2090","x":24,"y":0.6},{"year":"2090","x":26,"y":-1.8},{"year":"2090","x":28,"y":-3},{"year":"2090","x":32,"y":-0.5},{"year":"2090","x":34,"y":-2},{"year":"2090","x":36,"y":-3.5},{"year":"2090","x":38,"y":0.5},{"year":"2090","x":41,"y":-3},{"year":"2090","x":43,"y":-1.8},{"year":"2090","x":46,"y":-0.2},{"year":"2090","x":48,"y":-3},{"year":"2090","x":50,"y":-1.2},{"year":"2090","x":53,"y":-2.5},{"year":"2090","x":-16,"y":-4.5},{"year":"2090","x":-4,"y":-6},{"year":"2090","x":2,"y":-5.5},{"year":"2090","x":6,"y":-6.8},{"year":"2090","x":12,"y":-4.5},{"year":"2090","x":18,"y":-6.2},
{"year":"2100","x":-14,"y":-5},{"year":"2100","x":-13,"y":-6},{"year":"2100","x":-12,"y":-4.5},{"year":"2100","x":-12,"y":-5.5},{"year":"2100","x":-11,"y":-6.5},{"year":"2100","x":-10,"y":-5},{"year":"2100","x":-10,"y":-4},{"year":"2100","x":-9,"y":-6},{"year":"2100","x":-9,"y":-5.2},{"year":"2100","x":-8,"y":-6.8},{"year":"2100","x":-8,"y":-4.5},{"year":"2100","x":-7,"y":-5.5},{"year":"2100","x":-6,"y":-6.2},{"year":"2100","x":-6,"y":-4.8},{"year":"2100","x":-5,"y":-5.8},{"year":"2100","x":-4,"y":-6.5},{"year":"2100","x":-4,"y":-5},{"year":"2100","x":-3,"y":-5.5},{"year":"2100","x":-2,"y":-6.2},{"year":"2100","x":-2,"y":-4.5},{"year":"2100","x":-1,"y":-5.8},{"year":"2100","x":0,"y":-6.4},{"year":"2100","x":0,"y":-5},{"year":"2100","x":1,"y":-5.5},{"year":"2100","x":2,"y":-6.8},{"year":"2100","x":2,"y":-4.8},{"year":"2100","x":3,"y":-6},{"year":"2100","x":4,"y":-5.3},{"year":"2100","x":5,"y":-6.5},{"year":"2100","x":6,"y":-5.8},{"year":"2100","x":7,"y":-6.9},{"year":"2100","x":8,"y":-5.2},{"year":"2100","x":9,"y":-6.2},{"year":"2100","x":10,"y":-5.8},{"year":"2100","x":11,"y":-6.8},{"year":"2100","x":12,"y":-5.4},{"year":"2100","x":14,"y":-6.2},{"year":"2100","x":15,"y":-5.5},{"year":"2100","x":17.3,"y":-5.9},{"year":"2100","x":17,"y":-6.2},
{"year":"2100","x":-15,"y":0.5},{"year":"2100","x":-14,"y":-1},{"year":"2100","x":-13,"y":0.8},{"year":"2100","x":-12,"y":-2},{"year":"2100","x":-11,"y":0},{"year":"2100","x":-10,"y":1},{"year":"2100","x":-10,"y":-1.5},{"year":"2100","x":-9,"y":-2.8},{"year":"2100","x":-8,"y":0.3},{"year":"2100","x":-8,"y":-1},{"year":"2100","x":-7,"y":1.2},{"year":"2100","x":-7,"y":-2},{"year":"2100","x":-6,"y":0},{"year":"2100","x":-5,"y":-3},{"year":"2100","x":-5,"y":1},{"year":"2100","x":-4,"y":-1},{"year":"2100","x":-3,"y":0.5},{"year":"2100","x":-3,"y":-2.2},{"year":"2100","x":-2,"y":1},{"year":"2100","x":-2,"y":-1},{"year":"2100","x":-1,"y":-2.8},{"year":"2100","x":0,"y":0},{"year":"2100","x":0,"y":-1.5},{"year":"2100","x":1,"y":1},{"year":"2100","x":1,"y":-2.5},{"year":"2100","x":2,"y":-0.5},{"year":"2100","x":3,"y":0.8},{"year":"2100","x":3,"y":-2},{"year":"2100","x":4,"y":-1},{"year":"2100","x":5,"y":0},{"year":"2100","x":5,"y":-3},{"year":"2100","x":6,"y":-1.8},{"year":"2100","x":7,"y":0.5},{"year":"2100","x":8,"y":-1},{"year":"2100","x":9,"y":-2.5},{"year":"2100","x":10,"y":0},{"year":"2100","x":10,"y":-1.5},{"year":"2100","x":12,"y":-0.8},{"year":"2100","x":12,"y":-2.5},{"year":"2100","x":14,"y":-1.5},{"year":"2100","x":15,"y":-3},{"year":"2100","x":-9,"y":-3.5},{"year":"2100","x":-6,"y":-3.8},{"year":"2100","x":-2,"y":-3.6},{"year":"2100","x":2,"y":-3.8},{"year":"2100","x":6,"y":-4},{"year":"2100","x":10,"y":-3.8},
{"year":"2100","x":-15,"y":-5.5},{"year":"2100","x":-14,"y":-4.2},{"year":"2100","x":-13,"y":-5.2},{"year":"2100","x":-13,"y":-6.8},{"year":"2100","x":-12,"y":-6.3},{"year":"2100","x":-11,"y":-4.8},{"year":"2100","x":-11,"y":-5.8},{"year":"2100","x":-10,"y":-6.8},{"year":"2100","x":-10,"y":-5.6},{"year":"2100","x":-9,"y":-4.4},{"year":"2100","x":-8,"y":-5.8},{"year":"2100","x":-8,"y":-5},{"year":"2100","x":-7,"y":-6.4},{"year":"2100","x":-7,"y":-4.6},{"year":"2100","x":-6,"y":-5.4},{"year":"2100","x":-5,"y":-6.8},{"year":"2100","x":-5,"y":-4.4},{"year":"2100","x":-4,"y":-5.6},{"year":"2100","x":-3,"y":-6.6},{"year":"2100","x":-3,"y":-4.8},{"year":"2100","x":-2,"y":-5.3},{"year":"2100","x":-1,"y":-6.6},{"year":"2100","x":-1,"y":-4.6},{"year":"2100","x":0,"y":-5.7},{"year":"2100","x":1,"y":-6.2},{"year":"2100","x":1,"y":-4.4},{"year":"2100","x":2,"y":-5.8},{"year":"2100","x":3,"y":-5.2},{"year":"2100","x":3,"y":-6.7},{"year":"2100","x":4,"y":-6.3},{"year":"2100","x":4,"y":-4.5},{"year":"2100","x":5,"y":-5.6},{"year":"2100","x":6,"y":-6.8},{"year":"2100","x":6,"y":-4.8},{"year":"2100","x":7,"y":-5.8},{"year":"2100","x":8,"y":-6.5},{"year":"2100","x":9,"y":-5.3},{"year":"2100","x":10,"y":-6.6},{"year":"2100","x":11,"y":-5},{"year":"2100","x":12,"y":-6.2},{"year":"2100","x":13,"y":-5.8},{"year":"2100","x":16,"y":-6.5},
{"year":"2100","x":-16,"y":0.2},{"year":"2100","x":-15,"y":-1.8},{"year":"2100","x":-14,"y":-0.2},{"year":"2100","x":-13,"y":-2.6},{"year":"2100","x":-12,"y":0.6},{"year":"2100","x":-12,"y":-1},{"year":"2100","x":-11,"y":-1.8},{"year":"2100","x":-10,"y":-2.5},{"year":"2100","x":-9,"y":0.8},{"year":"2100","x":-9,"y":-0.5},{"year":"2100","x":-8,"y":-2},{"year":"2100","x":-7,"y":-0.5},{"year":"2100","x":-6,"y":1},{"year":"2100","x":-6,"y":-1.4},{"year":"2100","x":-6,"y":-2.6},{"year":"2100","x":-5,"y":-0.2},{"year":"2100","x":-4,"y":0.2},{"year":"2100","x":-4,"y":-2.2},{"year":"2100","x":-3,"y":-1.2},{"year":"2100","x":-2,"y":0.2},{"year":"2100","x":-2,"y":-2},{"year":"2100","x":-1,"y":0.8},{"year":"2100","x":-1,"y":-1},{"year":"2100","x":0,"y":1},{"year":"2100","x":0,"y":-2.2},{"year":"2100","x":1,"y":0},{"year":"2100","x":1,"y":-1.6},{"year":"2100","x":2,"y":0.5},{"year":"2100","x":2,"y":-2.8},{"year":"2100","x":3,"y":-0.8},{"year":"2100","x":4,"y":0.6},{"year":"2100","x":4,"y":-2},{"year":"2100","x":5,"y":-1.2},{"year":"2100","x":6,"y":0.8},{"year":"2100","x":6,"y":-0.5},{"year":"2100","x":7,"y":-2.5},{"year":"2100","x":8,"y":0.2},{"year":"2100","x":8,"y":-1.8},{"year":"2100","x":9,"y":-0.6},{"year":"2100","x":11,"y":-2},{"year":"2100","x":11,"y":0.5},{"year":"2100","x":13,"y":-1},{"year":"2100","x":-11,"y":-3.2},{"year":"2100","x":-7,"y":-3.2},{"year":"2100","x":-3,"y":-3.2},{"year":"2100","x":0,"y":-3.5},{"year":"2100","x":4,"y":-3.4},{"year":"2100","x":8,"y":-3.4},{"year":"2100","x":12,"y":-3.5},
{"year":"2100","x":-13.5,"y":-4.6},{"year":"2100","x":-12.5,"y":-5.8},{"year":"2100","x":-11.5,"y":-6.1},{"year":"2100","x":-10.5,"y":-4.3},{"year":"2100","x":-9.5,"y":-6.6},{"year":"2100","x":-8.5,"y":-5.4},{"year":"2100","x":-7.5,"y":-4.2},{"year":"2100","x":-6.5,"y":-6.6},{"year":"2100","x":-5.5,"y":-5.1},{"year":"2100","x":-4.5,"y":-4.2},{"year":"2100","x":-3.5,"y":-6.1},{"year":"2100","x":-2.5,"y":-5.9},{"year":"2100","x":-1.5,"y":-4.2},{"year":"2100","x":-0.5,"y":-5.2},{"year":"2100","x":0.5,"y":-6.9},{"year":"2100","x":1.5,"y":-5.1},{"year":"2100","x":2.5,"y":-4.3},{"year":"2100","x":3.5,"y":-5.6},{"year":"2100","x":4.5,"y":-6.9},{"year":"2100","x":5.5,"y":-4.2},{"year":"2100","x":6.5,"y":-5.3},{"year":"2100","x":7.5,"y":-6.3},{"year":"2100","x":8.5,"y":-4.6},{"year":"2100","x":9.5,"y":-5.7},{"year":"2100","x":10.5,"y":-4.4},{"year":"2100","x":11.5,"y":-6.1},{"year":"2100","x":13.5,"y":-5.1},{"year":"2100","x":-12,"y":-5},{"year":"2100","x":-9,"y":-6.5},{"year":"2100","x":-6,"y":-5},{"year":"2100","x":-3,"y":-6},{"year":"2100","x":0,"y":-4.2},{"year":"2100","x":3,"y":-4.6},{"year":"2100","x":7,"y":-4.4},{"year":"2100","x":-11,"y":-4},{"year":"2100","x":-4,"y":-4},{"year":"2100","x":5,"y":-5},{"year":"2100","x":9,"y":-6.8},{"year":"2100","x":-14.5,"y":-5.9},{"year":"2100","x":14.5,"y":-5},
{"year":"2100","x":-15.5,"y":-0.8},{"year":"2100","x":-14.5,"y":0.8},{"year":"2100","x":-13.5,"y":-1.6},{"year":"2100","x":-12.5,"y":-0.3},{"year":"2100","x":-11.5,"y":1.2},{"year":"2100","x":-11.5,"y":-2.6},{"year":"2100","x":-10.5,"y":-0.8},{"year":"2100","x":-9.5,"y":-1.9},{"year":"2100","x":-9.5,"y":1.4},{"year":"2100","x":-8.5,"y":-0.2},{"year":"2100","x":-8.5,"y":-3},{"year":"2100","x":-7.5,"y":0.6},{"year":"2100","x":-7.5,"y":-1.5},{"year":"2100","x":-6.5,"y":-2.2},{"year":"2100","x":-5.5,"y":0.5},{"year":"2100","x":-5.5,"y":-1.9},{"year":"2100","x":-4.5,"y":-0.6},{"year":"2100","x":-4.5,"y":1.4},{"year":"2100","x":-3.5,"y":-2.8},{"year":"2100","x":-3.5,"y":-0.2},{"year":"2100","x":-2.5,"y":1.3},{"year":"2100","x":-2.5,"y":-1.5},{"year":"2100","x":-1.5,"y":-0.2},{"year":"2100","x":-1.5,"y":-2.4},{"year":"2100","x":-0.5,"y":0.4},{"year":"2100","x":-0.5,"y":-1.8},{"year":"2100","x":0.5,"y":-0.8},{"year":"2100","x":0.5,"y":1.4},{"year":"2100","x":1.5,"y":-2},{"year":"2100","x":1.5,"y":0.3},{"year":"2100","x":2.5,"y":-1.2},{"year":"2100","x":2.5,"y":1.2},{"year":"2100","x":3.5,"y":-2.6},{"year":"2100","x":3.5,"y":0},{"year":"2100","x":4.5,"y":-0.4},{"year":"2100","x":5.5,"y":-2.2},{"year":"2100","x":5.5,"y":1},{"year":"2100","x":6.5,"y":-1.2},{"year":"2100","x":7.5,"y":-0.2},{"year":"2100","x":8.5,"y":-2.8},{"year":"2100","x":9.5,"y":0.6},{"year":"2100","x":9.5,"y":-1.4},{"year":"2100","x":10.5,"y":-2.8},{"year":"2100","x":11.5,"y":-0.4},{"year":"2100","x":12.5,"y":-1.8},{"year":"2100","x":13.5,"y":0.2},{"year":"2100","x":14.5,"y":-2.5},{"year":"2100","x":-10,"y":-3.8},{"year":"2100","x":-5,"y":-3.6},{"year":"2100","x":3,"y":-3.2},{"year":"2100","x":7,"y":-3.8},{"year":"2100","x":11,"y":-3.2},
{"year":"2100","x":-14.2,"y":-4.1},{"year":"2100","x":-14.2,"y":-5.4},{"year":"2100","x":-14.2,"y":-6.7},{"year":"2100","x":-13.1,"y":-4.4},{"year":"2100","x":-13.1,"y":-5.15},{"year":"2100","x":-13.1,"y":-6.5},{"year":"2100","x":-12.3,"y":-4.7},{"year":"2100","x":-12.3,"y":-4.9},{"year":"2100","x":-12.3,"y":-6.3},{"year":"2100","x":-11.6,"y":-5.0},{"year":"2100","x":-11.6,"y":-5.4},{"year":"2100","x":-11.6,"y":-6.1},{"year":"2100","x":-10.8,"y":-4.1},{"year":"2100","x":-10.8,"y":-5.15},{"year":"2100","x":-10.8,"y":-5.9},{"year":"2100","x":-9.9,"y":-4.4},{"year":"2100","x":-9.9,"y":-4.9},{"year":"2100","x":-9.9,"y":-6.7},{"year":"2100","x":-9.2,"y":-4.7},{"year":"2100","x":-9.2,"y":-5.4},{"year":"2100","x":-9.2,"y":-6.5},{"year":"2100","x":-8.4,"y":-5.0},{"year":"2100","x":-8.4,"y":-5.15},{"year":"2100","x":-8.4,"y":-6.3},{"year":"2100","x":-7.7,"y":-4.1},{"year":"2100","x":-7.7,"y":-4.9},{"year":"2100","x":-7.7,"y":-6.1},{"year":"2100","x":-6.8,"y":-4.4},{"year":"2100","x":-6.8,"y":-5.4},{"year":"2100","x":-6.8,"y":-5.9},{"year":"2100","x":-6.1,"y":-4.7},{"year":"2100","x":-6.1,"y":-5.15},{"year":"2100","x":-6.1,"y":-6.7},{"year":"2100","x":-5.3,"y":-5.0},{"year":"2100","x":-5.3,"y":-4.9},{"year":"2100","x":-5.3,"y":-6.5},{"year":"2100","x":-4.6,"y":-4.1},{"year":"2100","x":-4.6,"y":-5.4},{"year":"2100","x":-4.6,"y":-6.3},{"year":"2100","x":-3.8,"y":-4.4},{"year":"2100","x":-3.8,"y":-5.15},{"year":"2100","x":-3.8,"y":-6.1},{"year":"2100","x":-3.1,"y":-4.7},{"year":"2100","x":-3.1,"y":-4.9},{"year":"2100","x":-3.1,"y":-5.9},{"year":"2100","x":-2.2,"y":-5.0},{"year":"2100","x":-2.2,"y":-5.4},{"year":"2100","x":-2.2,"y":-6.7},{"year":"2100","x":-1.4,"y":-4.1},{"year":"2100","x":-1.4,"y":-5.15},{"year":"2100","x":-1.4,"y":-6.5},{"year":"2100","x":-0.7,"y":-4.4},{"year":"2100","x":-0.7,"y":-4.9},{"year":"2100","x":-0.7,"y":-6.3},{"year":"2100","x":0.2,"y":-4.7},{"year":"2100","x":0.2,"y":-5.4},{"year":"2100","x":0.2,"y":-6.1},{"year":"2100","x":0.9,"y":-5.0},{"year":"2100","x":0.9,"y":-5.15},{"year":"2100","x":0.9,"y":-5.9},{"year":"2100","x":1.7,"y":-4.1},{"year":"2100","x":1.7,"y":-4.9},{"year":"2100","x":1.7,"y":-6.7},{"year":"2100","x":2.6,"y":-4.4},{"year":"2100","x":2.6,"y":-5.4},{"year":"2100","x":2.6,"y":-6.5},{"year":"2100","x":3.3,"y":-4.7},{"year":"2100","x":3.3,"y":-5.15},{"year":"2100","x":3.3,"y":-6.3},{"year":"2100","x":4.1,"y":-5.0},{"year":"2100","x":4.1,"y":-4.9},{"year":"2100","x":4.1,"y":-6.1},{"year":"2100","x":4.8,"y":-4.1},{"year":"2100","x":4.8,"y":-5.4},{"year":"2100","x":4.8,"y":-5.9},{"year":"2100","x":5.7,"y":-4.4},{"year":"2100","x":5.7,"y":-5.15},{"year":"2100","x":5.7,"y":-6.7},{"year":"2100","x":6.4,"y":-4.7},{"year":"2100","x":6.4,"y":-4.9},{"year":"2100","x":6.4,"y":-6.5},{"year":"2100","x":7.2,"y":-5.0},{"year":"2100","x":7.2,"y":-5.4},{"year":"2100","x":7.2,"y":-6.3},{"year":"2100","x":8.1,"y":-4.1},{"year":"2100","x":8.1,"y":-5.15},{"year":"2100","x":8.1,"y":-6.1},{"year":"2100","x":8.8,"y":-4.4},{"year":"2100","x":8.8,"y":-4.9},{"year":"2100","x":8.8,"y":-5.9},{"year":"2100","x":9.6,"y":-4.7},{"year":"2100","x":9.6,"y":-5.4},{"year":"2100","x":9.6,"y":-6.7},{"year":"2100","x":10.3,"y":-5.0},{"year":"2100","x":10.3,"y":-5.15},{"year":"2100","x":10.3,"y":-6.5},{"year":"2100","x":11.2,"y":-4.1},{"year":"2100","x":11.2,"y":-4.9},{"year":"2100","x":11.2,"y":-6.3},{"year":"2100","x":12.1,"y":-4.4},{"year":"2100","x":12.1,"y":-5.4},{"year":"2100","x":12.1,"y":-6.1},{"year":"2100","x":12.8,"y":-4.7},{"year":"2100","x":12.8,"y":-5.15},{"year":"2100","x":12.8,"y":-5.9},{"year":"2100","x":13.7,"y":-5.0},{"year":"2100","x":13.7,"y":-4.9},{"year":"2100","x":13.7,"y":-6.7},
{"year":"2100","x":-16.8,"y":1.1},{"year":"2100","x":-16.8,"y":-0.2},{"year":"2100","x":-16.8,"y":-1.5},{"year":"2100","x":-16.8,"y":-2.6},{"year":"2100","x":-15.9,"y":0.8},{"year":"2100","x":-15.9,"y":-0.5},{"year":"2100","x":-15.9,"y":-1.8},{"year":"2100","x":-15.9,"y":-2.3},{"year":"2100","x":-14.2,"y":0.5},{"year":"2100","x":-14.2,"y":-0.8},{"year":"2100","x":-14.2,"y":-1.2},{"year":"2100","x":-14.2,"y":-2.9},{"year":"2100","x":-13.1,"y":1.1},{"year":"2100","x":-13.1,"y":-0.35},{"year":"2100","x":-13.1,"y":-1.5},{"year":"2100","x":-13.1,"y":-2.45},{"year":"2100","x":-12.3,"y":0.8},{"year":"2100","x":-12.3,"y":-0.2},{"year":"2100","x":-12.3,"y":-1.8},{"year":"2100","x":-12.3,"y":-2.6},{"year":"2100","x":-11.6,"y":0.5},{"year":"2100","x":-11.6,"y":-0.5},{"year":"2100","x":-11.6,"y":-1.2},{"year":"2100","x":-11.6,"y":-2.3},{"year":"2100","x":-10.8,"y":1.1},{"year":"2100","x":-10.8,"y":-0.8},{"year":"2100","x":-10.8,"y":-1.5},{"year":"2100","x":-10.8,"y":-2.9},{"year":"2100","x":-9.9,"y":0.8},{"year":"2100","x":-9.9,"y":-0.35},{"year":"2100","x":-9.9,"y":-1.8},{"year":"2100","x":-9.9,"y":-2.45},{"year":"2100","x":-9.2,"y":0.5},{"year":"2100","x":-9.2,"y":-0.2},{"year":"2100","x":-9.2,"y":-1.2},{"year":"2100","x":-9.2,"y":-2.6},{"year":"2100","x":-8.4,"y":1.1},{"year":"2100","x":-8.4,"y":-0.5},{"year":"2100","x":-8.4,"y":-1.5},{"year":"2100","x":-8.4,"y":-2.3},{"year":"2100","x":-7.7,"y":0.8},{"year":"2100","x":-7.7,"y":-0.8},{"year":"2100","x":-7.7,"y":-1.8},{"year":"2100","x":-7.7,"y":-2.9},{"year":"2100","x":-6.8,"y":0.5},{"year":"2100","x":-6.8,"y":-0.35},{"year":"2100","x":-6.8,"y":-1.2},{"year":"2100","x":-6.8,"y":-2.45},{"year":"2100","x":-6.1,"y":1.1},{"year":"2100","x":-6.1,"y":-0.2},{"year":"2100","x":-6.1,"y":-1.5},{"year":"2100","x":-6.1,"y":-2.6},{"year":"2100","x":-5.3,"y":0.8},{"year":"2100","x":-5.3,"y":-0.5},{"year":"2100","x":-5.3,"y":-1.8},{"year":"2100","x":-5.3,"y":-2.3},{"year":"2100","x":-4.6,"y":0.5},{"year":"2100","x":-4.6,"y":-0.8},{"year":"2100","x":-4.6,"y":-1.2},{"year":"2100","x":-4.6,"y":-2.9},{"year":"2100","x":-3.8,"y":1.1},{"year":"2100","x":-3.8,"y":-0.35},{"year":"2100","x":-3.8,"y":-1.5},{"year":"2100","x":-3.8,"y":-2.45},{"year":"2100","x":-3.1,"y":0.8},{"year":"2100","x":-3.1,"y":-0.2},{"year":"2100","x":-3.1,"y":-1.8},{"year":"2100","x":-3.1,"y":-2.6},{"year":"2100","x":-2.2,"y":0.5},{"year":"2100","x":-2.2,"y":-0.5},{"year":"2100","x":-2.2,"y":-1.2},{"year":"2100","x":-2.2,"y":-2.3},{"year":"2100","x":-1.4,"y":1.1},{"year":"2100","x":-1.4,"y":-0.8},{"year":"2100","x":-1.4,"y":-1.5},{"year":"2100","x":-1.4,"y":-2.9},{"year":"2100","x":-0.7,"y":0.8},{"year":"2100","x":-0.7,"y":-0.35},{"year":"2100","x":-0.7,"y":-1.8},{"year":"2100","x":-0.7,"y":-2.45},{"year":"2100","x":0.2,"y":0.5},{"year":"2100","x":0.2,"y":-0.2},{"year":"2100","x":0.2,"y":-1.2},{"year":"2100","x":0.2,"y":-2.6},{"year":"2100","x":0.9,"y":1.1},{"year":"2100","x":0.9,"y":-0.5},{"year":"2100","x":0.9,"y":-1.5},{"year":"2100","x":0.9,"y":-2.3},{"year":"2100","x":1.7,"y":0.8},{"year":"2100","x":1.7,"y":-0.8},{"year":"2100","x":1.7,"y":-1.8},{"year":"2100","x":1.7,"y":-2.9},{"year":"2100","x":2.6,"y":0.5},{"year":"2100","x":2.6,"y":-0.35},{"year":"2100","x":2.6,"y":-1.2},{"year":"2100","x":2.6,"y":-2.45},{"year":"2100","x":3.3,"y":1.1},{"year":"2100","x":3.3,"y":-0.2},{"year":"2100","x":3.3,"y":-1.5},{"year":"2100","x":3.3,"y":-2.6},{"year":"2100","x":4.1,"y":0.8},{"year":"2100","x":4.1,"y":-0.5},{"year":"2100","x":4.1,"y":-1.8},{"year":"2100","x":4.1,"y":-2.3},{"year":"2100","x":4.8,"y":0.5},{"year":"2100","x":4.8,"y":-0.8},{"year":"2100","x":4.8,"y":-1.2},{"year":"2100","x":4.8,"y":-2.9},{"year":"2100","x":5.7,"y":1.1},{"year":"2100","x":5.7,"y":-0.35},{"year":"2100","x":5.7,"y":-1.5},{"year":"2100","x":5.7,"y":-2.45},{"year":"2100","x":6.4,"y":0.8},{"year":"2100","x":6.4,"y":-0.2},{"year":"2100","x":6.4,"y":-1.8},{"year":"2100","x":6.4,"y":-2.6},{"year":"2100","x":7.2,"y":0.5},{"year":"2100","x":7.2,"y":-0.5},{"year":"2100","x":7.2,"y":-1.2},{"year":"2100","x":7.2,"y":-2.3},{"year":"2100","x":8.1,"y":1.1},{"year":"2100","x":8.1,"y":-0.8},{"year":"2100","x":8.1,"y":-1.5},{"year":"2100","x":8.1,"y":-2.9},{"year":"2100","x":8.8,"y":0.8},{"year":"2100","x":8.8,"y":-0.35},{"year":"2100","x":8.8,"y":-1.8},{"year":"2100","x":8.8,"y":-2.45},{"year":"2100","x":9.6,"y":0.5},{"year":"2100","x":9.6,"y":-0.2},{"year":"2100","x":9.6,"y":-1.2},{"year":"2100","x":9.6,"y":-2.6},{"year":"2100","x":10.3,"y":1.1},{"year":"2100","x":10.3,"y":-0.5},{"year":"2100","x":10.3,"y":-1.5},{"year":"2100","x":10.3,"y":-2.3},{"year":"2100","x":11.2,"y":0.8},{"year":"2100","x":11.2,"y":-0.8},{"year":"2100","x":11.2,"y":-1.8},{"year":"2100","x":11.2,"y":-2.9},{"year":"2100","x":12.1,"y":0.5},{"year":"2100","x":12.1,"y":-0.35},{"year":"2100","x":12.1,"y":-1.2},{"year":"2100","x":12.1,"y":-2.45},
{"year":"2100","x":-21,"y":0.85},{"year":"2100","x":-19,"y":0.9},{"year":"2100","x":-17,"y":0.8},{"year":"2100","x":-20.5,"y":-0.97},{"year":"2100","x":-15.1,"y":-2.2},{"year":"2100","x":-18,"y":-1.5},{"year":"2100","x":-21.3,"y":-3},
{"year":"2100","x":20.6,"y":-3.1},{"year":"2100","x":20,"y":-1},{"year":"2100","x":25,"y":-2},{"year":"2100","x":28,"y":-2.5},{"year":"2100","x":30,"y":-3},{"year":"2100","x":34.5,"y":-2.57},{"year":"2100","x":35,"y":-4},{"year":"2100","x":38,"y":-4.9},{"year":"2100","x":40,"y":-2},{"year":"2100","x":40,"y":-5},{"year":"2100","x":43,"y":-3.2},{"year":"2100","x":46,"y":-4.95},{"year":"2100","x":46.5,"y":-4.95},{"year":"2100","x":47,"y":-2.8},{"year":"2100","x":50.2,"y":-5.1},{"year":"2100","x":53,"y":-4.9},{"year":"2100","x":54.6,"y":-5.45},{"year":"2100","x":57.5,"y":-2.4},{"year":"2100","x":58,"y":-3.3},{"year":"2100","x":60.8,"y":-4.7},{"year":"2100","x":64,"y":-2.8},{"year":"2100","x":65,"y":-1},{"year":"2100","x":68,"y":-1},{"year":"2100","x":70,"y":-2},{"year":"2100","x":71.4,"y":-3.7},{"year":"2100","x":72.4,"y":-2.9},{"year":"2100","x":72.7,"y":-4.6},{"year":"2100","x":75,"y":-1.5},{"year":"2100","x":81.8,"y":-1.6},{"year":"2100","x":82.2,"y":-1.6},{"year":"2100","x":86.2,"y":-1.6},{"year":"2100","x":88.7,"y":-2.07},{"year":"2100","x":100,"y":-0.2},{"year":"2100","x":106,"y":0.5},{"year":"2100","x":110,"y":-0.5},{"year":"2100","x":114.3,"y":-1.8},{"year":"2100","x":127.6,"y":-1.3},{"year":"2100","x":81,"y":5.4},{"year":"2100","x":32,"y":8.2},{"year":"2100","x":37,"y":4.7},{"year":"2100","x":50,"y":3},{"year":"2100","x":23,"y":-5.2},{"year":"2100","x":33,"y":-5.8},{"year":"2100","x":60,"y":0},{"year":"2100","x":45,"y":1},{"year":"2100","x":30,"y":1},{"year":"2100","x":20,"y":1.5}
]},
"layer":[
{"data":{"name":"pts"},
"mark":{"type":"circle","size":380,"fillOpacity":0.3,"strokeOpacity":0.3,"strokeWidth":1.5},
"encoding":{
"x":{"field":"x","type":"quantitative","scale":{"domain":[-29,138.7],"nice":false,"zero":false},
"axis":{"orient":"bottom","values":[-20,0,20,40,60,80,100,120],"tickSize":-12,"labelPadding":24,"title":"CO₂ Fossil emissions, GtCO₂ yr⁻¹","titlePadding":18}},
"y":{"field":"y","type":"quantitative","scale":{"domain":[-15.7,11.26],"nice":false,"zero":false},
"axis":{"orient":"left","values":[-15,-10,-5,0,5,10],"tickSize":-12,"labelPadding":24,"title":"CO₂ AFOLU, GtCO₂ yr⁻¹","titlePadding":19}},
"color":{"field":"year","type":"nominal","scale":{"domain":["2030","2040","2050","2060","2070","2080","2090","2100"],"range":["#1f77b4","#ff7f0e","#2ca02c","#d62728","#9467bd","#8c564b","#e377c2","#7f7f7f"]},
"legend":{"title":null,"orient":"bottom-right","offset":12,"padding":9,"labelFont":"Liberation Sans","labelFontSize":22,"labelColor":"black","labelOffset":32,"symbolOffset":13,"symbolSize":380,"symbolStrokeWidth":1.5,"symbolType":"circle","rowPadding":7,"fillColor":"rgba(255,255,255,0.8)","strokeColor":"#cccccc","cornerRadius":6,
"encode":{"legend":{"update":{"strokeWidth":{"value":2}}},"symbols":{"update":{"fillOpacity":{"value":0.3},"strokeOpacity":{"value":0.35}}}}}},
"stroke":{"field":"year","type":"nominal","scale":{"domain":["2030","2040","2050","2060","2070","2080","2090","2100"],"range":["#1f77b4","#ff7f0e","#2ca02c","#d62728","#9467bd","#8c564b","#e377c2","#7f7f7f"]},
"legend":{"title":null,"orient":"bottom-right","offset":12,"padding":9,"labelFont":"Liberation Sans","labelFontSize":22,"labelColor":"black","labelOffset":32,"symbolOffset":13,"symbolSize":380,"symbolStrokeWidth":1.5,"symbolType":"circle","rowPadding":7,"fillColor":"rgba(255,255,255,0.8)","strokeColor":"#cccccc","cornerRadius":6,
"encode":{"legend":{"update":{"strokeWidth":{"value":2}}},"symbols":{"update":{"fillOpacity":{"value":0.3},"strokeOpacity":{"value":0.35}}}}}}
}},
{"data":{"name":"fits"},
"mark":{"type":"rule","strokeWidth":3.5,"strokeCap":"round"},
"encoding":{
"x":{"field":"x1","type":"quantitative","scale":{"domain":[-29,138.7],"nice":false,"zero":false},
"axis":{"orient":"top","values":[-20,0,20,40,60,80,100,120],"tickSize":-12,"labels":false,"title":null}},
"y":{"field":"y1","type":"quantitative","scale":{"domain":[-15.7,11.26],"nice":false,"zero":false},
"axis":{"orient":"right","values":[-15,-10,-5,0,5,10],"tickSize":-12,"labels":false,"title":null}},
"x2":{"field":"x2"},"y2":{"field":"y2"},
"color":{"field":"year","type":"nominal","scale":{"domain":["2030","2040","2050","2060","2070","2080","2090","2100"],"range":["#1f77b4","#ff7f0e","#2ca02c","#d62728","#9467bd","#8c564b","#e377c2","#7f7f7f"]},"legend":null}
}},
{"data":{"name":"fits"},
"mark":{"type":"point","opacity":0},
"encoding":{
"x":{"field":"x1","type":"quantitative","scale":{"domain":[-29,138.7],"nice":false,"zero":false},
"axis":{"orient":"bottom","values":[-25,-15,-10,-5,5,10,15,25,30,35,45,50,55,65,70,75,85,90,95,105,110,115,125,130,135],"tickSize":-7,"labels":false,"title":null}},
"y":{"field":"y1","type":"quantitative","scale":{"domain":[-15.7,11.26],"nice":false,"zero":false},
"axis":{"orient":"left","values":[-14,-13,-12,-11,-9,-8,-7,-6,-4,-3,-2,-1,1,2,3,4,6,7,8,9,11],"tickSize":-7,"labels":false,"title":null}}
}},
{"data":{"name":"fits"},
"mark":{"type":"point","opacity":0},
"encoding":{
"x":{"field":"x1","type":"quantitative","scale":{"domain":[-29,138.7],"nice":false,"zero":false},
"axis":{"orient":"top","values":[-25,-15,-10,-5,5,10,15,25,30,35,45,50,55,65,70,75,85,90,95,105,110,115,125,130,135],"tickSize":-7,"labels":false,"title":null}},
"y":{"field":"y1","type":"quantitative","scale":{"domain":[-15.7,11.26],"nice":false,"zero":false},
"axis":{"orient":"right","values":[-14,-13,-12,-11,-9,-8,-7,-6,-4,-3,-2,-1,1,2,3,4,6,7,8,9,11],"tickSize":-7,"labels":false,"title":null}}
}}
],
"resolve":{"axis":{"x":"independent","y":"independent"}}
}
